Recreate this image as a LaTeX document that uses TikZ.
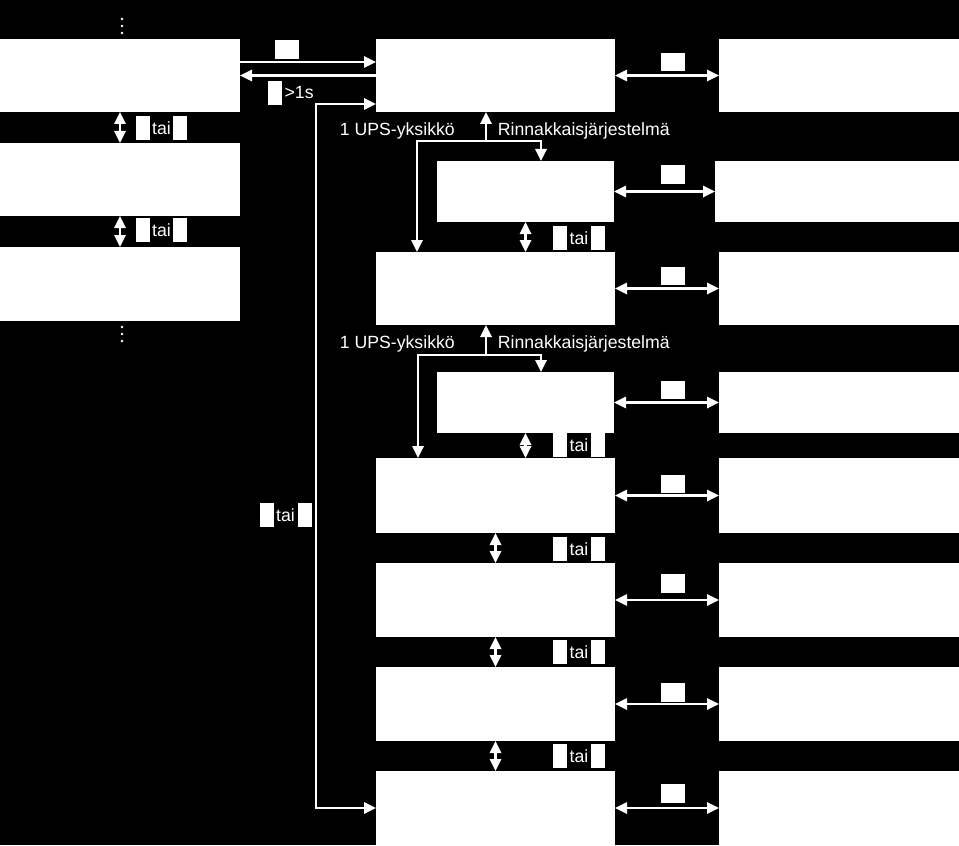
\documentclass[tikz,border=0pt]{standalone}
\usepackage{fontspec}
\setmainfont{Liberation Sans}
\usetikzlibrary{arrows.meta,positioning,fit}

\tikzset{
  box/.style={fill=white, inner sep=0pt, outer sep=0pt},
  key/.style={fill=white, inner sep=0pt, minimum width=10.5pt, minimum height=18pt},
  mrkey/.style={fill=white, inner sep=0pt, minimum width=18pt, minimum height=14pt},
  lbl/.style={text=white, inner sep=1.6pt, font=\fontsize{13.25}{16}\selectfont},
  arr/.style={draw=white, line width=1.7pt, -{Triangle[length=9pt,width=8.5pt]}},
  dbl/.style={draw=white, line width=1.7pt, {Triangle[length=9pt,width=8.5pt]}-{Triangle[length=9pt,width=8.5pt]}},
}

\begin{document}
\begin{tikzpicture}[x=0.75pt,y=0.75pt,yscale=-1,xscale=1]
%Background
\fill[black] (0,0) rectangle (959,845);

%Shape: Rectangle (left column)
\node[box, fit={(0,39) (240,112)}] (L1) {};
\node[box, fit={(0,143) (240,216)}] (L2) {};
\node[box, fit={(0,247) (240,321)}] (L3) {};
%Shape: Rectangle (middle column)
\node[box, fit={(376,39) (615,112)}] (M1) {};
\node[box, fit={(437,161) (614,222)}] (S1) {};
\node[box, fit={(376,252) (615,325)}] (M2) {};
\node[box, fit={(437,372) (614,433)}] (S2) {};
\node[box, fit={(376,458) (615,533)}] (M3) {};
\node[box, fit={(376,563) (615,637)}] (M4) {};
\node[box, fit={(376,667) (615,741)}] (M5) {};
\node[box, fit={(376,771) (615,845)}] (M6) {};
%Shape: Rectangle (right column)
\node[box, fit={(719,39) (959,112)}] (R1) {};
\node[box, fit={(715,161) (959,222)}] (R2) {};
\node[box, fit={(719,252) (959,325)}] (R3) {};
\node[box, fit={(719,372) (959,433)}] (R4) {};
\node[box, fit={(719,458) (959,533)}] (R5) {};
\node[box, fit={(719,563) (959,637)}] (R6) {};
\node[box, fit={(719,667) (959,741)}] (R7) {};
\node[box, fit={(719,771) (959,845)}] (R8) {};

%Dots
\foreach \y in {19,26,33} \fill[white] (122,\y) circle (1.4);
\foreach \y in {327,334,341} \fill[white] (122,\y) circle (1.4);

%Corner points
\coordinate (up1) at (0,62);
\coordinate (lpa) at (316,104);
\coordinate (lpb) at (316,808);
\coordinate (j1) at (486,141);
\coordinate (b1l) at (417,141);
\coordinate (b1r) at (541,141);
\coordinate (j2) at (486,355);
\coordinate (b2l) at (418,355);
\coordinate (b2r) at (541,355);

%Straight Lines
\draw[arr] (L1.east |- up1) -- (M1.west |- up1);
\draw[arr] (M1.west) -- (L1.east);
\draw[dbl] (M1.west |- lpa) -- (lpa) -- (lpb) -- (M6.west);
\draw[dbl] (L1.south) -- (L2.north);
\draw[dbl] (L2.south) -- (L3.north);
%Straight Lines (branches)
\draw[arr] (j1) -- (j1 |- M1.south);
\draw[dbl] (b1l |- M2.north) -- (b1l) -- (b1r) -- (b1r |- S1.north);
\draw[arr] (j2) -- (j2 |- M2.south);
\draw[dbl] (b2l |- M3.north) -- (b2l) -- (b2r) -- (b2r |- S2.north);
\draw[dbl] (S1.south) -- (S1.south |- M2.north);
\draw[dbl] (S2.south) -- (S2.south |- M3.north);
\draw[dbl] (M3.south) -- (M4.north);
\draw[dbl] (M4.south) -- (M5.north);
\draw[dbl] (M5.south) -- (M6.north);
%Straight Lines (to the right)
\draw[dbl] (M1.east) -- (R1.west);
\draw[dbl] (S1.east) -- (S1.east -| R2.west);
\draw[dbl] (M2.east) -- (R3.west);
\draw[dbl] (S2.east) -- (S2.east -| R4.west);
\draw[dbl] (M3.east) -- (R5.west);
\draw[dbl] (M4.east) -- (R6.west);
\draw[dbl] (M5.east) -- (R7.west);
\draw[dbl] (M6.east) -- (R8.west);

%Keys
\node[mrkey] (ktop) at (287,49.5) {};
\node[key] (klong) at (275,93) {};
\node[lbl, right=0pt of klong] (long) {>1s};
\node[mrkey] (kr1) at (673,62) {};
\node[mrkey] (kr2) at (673,174.5) {};
\node[mrkey] (kr3) at (673,276) {};
\node[mrkey] (kr4) at (673,390) {};
\node[mrkey] (kr5) at (673,484) {};
\node[mrkey] (kr6) at (673,583.5) {};
\node[mrkey] (kr7) at (673,692.5) {};
\node[mrkey] (kr8) at (673,793.5) {};

% Text Node
\foreach \n/\x/\y in {1/161.5/128, 2/161.5/230, 3/579/238, 4/579/445, 5/579/549, 6/579/652, 7/579/756, 8/285.5/515} {
  \node[lbl] (tai\n) at (\x,\y) {tai};
  \node[key, left=0pt of tai\n] (tai\n-a) {};
  \node[key, right=0pt of tai\n] (tai\n-b) {};
}
% Text Node
\node[lbl, anchor=base west] (ups1) at (337.5,136) {1 UPS-yksikkö};
\node[lbl, anchor=base west] (par1) at (495.5,136) {Rinnakkaisjärjestelmä};
\node[lbl, anchor=base west] (ups2) at (337.5,348) {1 UPS-yksikkö};
\node[lbl, anchor=base west] (par2) at (495.5,348) {Rinnakkaisjärjestelmä};

\end{tikzpicture}
\end{document}
